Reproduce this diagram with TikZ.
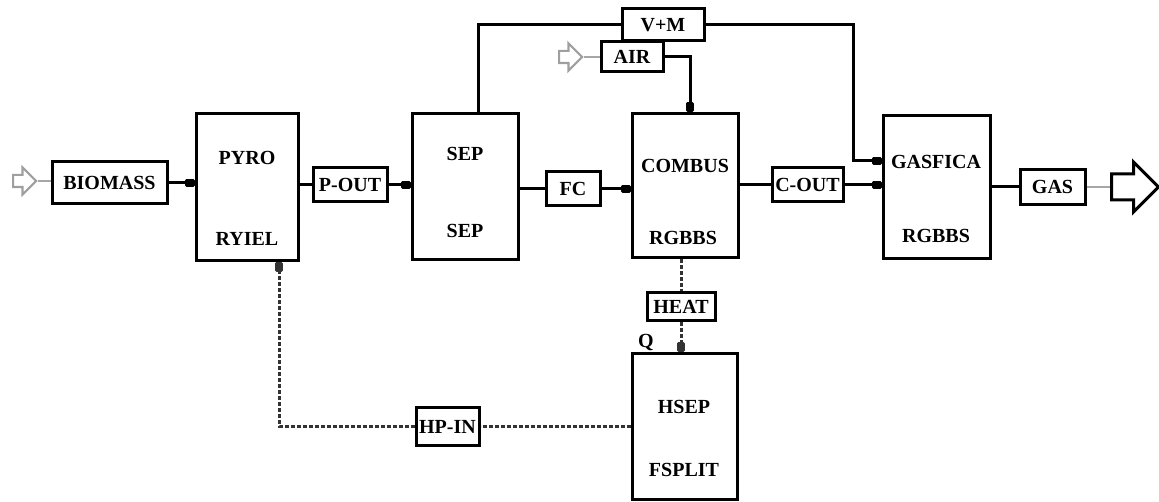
\documentclass[tikz,border=0pt]{standalone}
\usepackage{fontspec}
\setmainfont{Liberation Serif}
\usetikzlibrary{shapes.arrows,arrows.meta,positioning,calc}

\begin{document}
\begin{tikzpicture}[
  x=1pt, y=-1pt,
  every node/.style={font=\fontsize{20}{24}\selectfont\bfseries},
  unit/.style    ={rectangle, draw, line width=3pt, inner sep=0pt},
  stream/.style  ={rectangle, draw, line width=3pt, inner sep=1pt, minimum height=34pt},
  feed/.style    ={single arrow, draw=gray!75, line width=2.2pt, inner xsep=0pt, inner ysep=5pt,
                   anchor=west, single arrow head extend=7.5pt, minimum height=23pt},
  product/.style ={single arrow, draw, line width=3pt, inner xsep=0pt, inner ysep=11.5pt,
                   anchor=west, single arrow head extend=12pt, minimum height=47pt},
  link/.style    ={line width=3pt},
  flow/.style    ={line width=3pt, -{Rectangle[length=10pt,width=8pt,round]}},
  heatflow/.style={line width=3pt, black!80, dash pattern=on 4pt off 2pt},
  feedline/.style={gray!70, line width=1.6pt}
]
\useasboundingbox (0,0) rectangle (1159,502);

% unit blocks
\node[unit, minimum width=102pt, minimum height=147pt] (pyro)    at (247,187.5) {};
\node[unit, minimum width=106pt, minimum height=146pt] (sep)     at (465,187)   {};
\node[unit, minimum width=106pt, minimum height=144pt] (combus)  at (685,186)   {};
\node[unit, minimum width=107pt, minimum height=143pt] (gasfica) at (936.5,187.5) {};
\node[unit, minimum width=105pt, minimum height=145pt] (hsep)    at (684.5,426.5) {};

\node (pyrotop) at (247,158) {PYRO};
\node (pyrobot) at (247,239) {RYIEL};
\node (septop)  at (465,154) {SEP};
\node (sepbot)  at (465,231) {SEP};
\node (combtop) at (685,166) {COMBUS};
\node (combbot) at (683,238) {RGBBS};
\node (gastop)  at (936,162) {GASFICA};
\node (gasbot)  at (936,236) {RGBBS};
\node (hseptop) at (684,407) {HSEP};
\node (hsepbot) at (684,470) {FSPLIT};
\node (qmark)   at (646,343) {Q};

% streams
\node[stream, minimum width=115pt, minimum height=42pt] (biomass) at (109.5,183) {BIOMASS};
\node[stream, minimum width=74pt] (pout) at (350,185)   {P-OUT};
\node[stream, minimum width=54pt] (fc)   at (573,189)   {FC};
\node[stream, minimum width=71pt] (cout) at (807.5,185) {C-OUT};
\node[stream, minimum width=82pt, minimum height=32pt] (vm)   at (663,25)  {V+M};
\node[stream, minimum width=62pt, minimum height=30pt] (air)  at (632,57)  {AIR};
\node[stream, minimum width=65pt, minimum height=35pt] (gas)  at (1052.5,187) {GAS};
\node[stream, minimum width=68pt, minimum height=28pt] (heat) at (681,307) {HEAT};
\node[stream, minimum width=63pt, minimum height=38pt] (hpin) at (447.5,426.5) {HP-IN};

% feeds and product
\node[feed] (bioin) at (12,181) {};
\node[feed] (airin) at (558,57) {};
\node[product] (gasout) at (1110,187) {};
\coordinate (vmbend) at (853,161);

% connectors
\draw[feedline] (bioin.east) -- (bioin.east -| biomass.west);
\draw[flow] (biomass.east) -- (biomass.east -| pyro.west);
\draw[link] (pyro.east |- pout) -- (pout.west);
\draw[flow] (pout.east) -- (pout.east -| sep.west);
\draw[link] (sep.east |- fc) -- (fc.west);
\draw[flow] (fc.east) -- (fc.east -| combus.west);
\draw[link] (combus.east |- cout) -- (cout.west);
\draw[flow] (cout.east) -- (cout.east -| gasfica.west);
\draw[link] (gasfica.east |- gas) -- (gas.west);
\draw[feedline] (gas.east) -- (gasout.west);
\draw[link] ([xshift=13pt]sep.north) |- (vm.west);
\draw[flow] (vm.east) -| (vmbend) -- (vmbend -| gasfica.west);
\draw[feedline] (airin.east) -- (air.west);
\draw[flow] (air.east) -| ([xshift=5pt]combus.north);
\draw[heatflow] (combus.south -| heat) -- (heat.north);
\draw[heatflow, -{Rectangle[length=10pt,width=8pt,round]}] (heat.south) -- (heat.south |- hsep.north);
\draw[heatflow] (hsep.west) -- (hpin.east);
\draw[heatflow, -{Rectangle[length=10pt,width=8pt,round]}] (hpin.west) -| ([xshift=32pt]pyro.south);
\end{tikzpicture}
\end{document}
